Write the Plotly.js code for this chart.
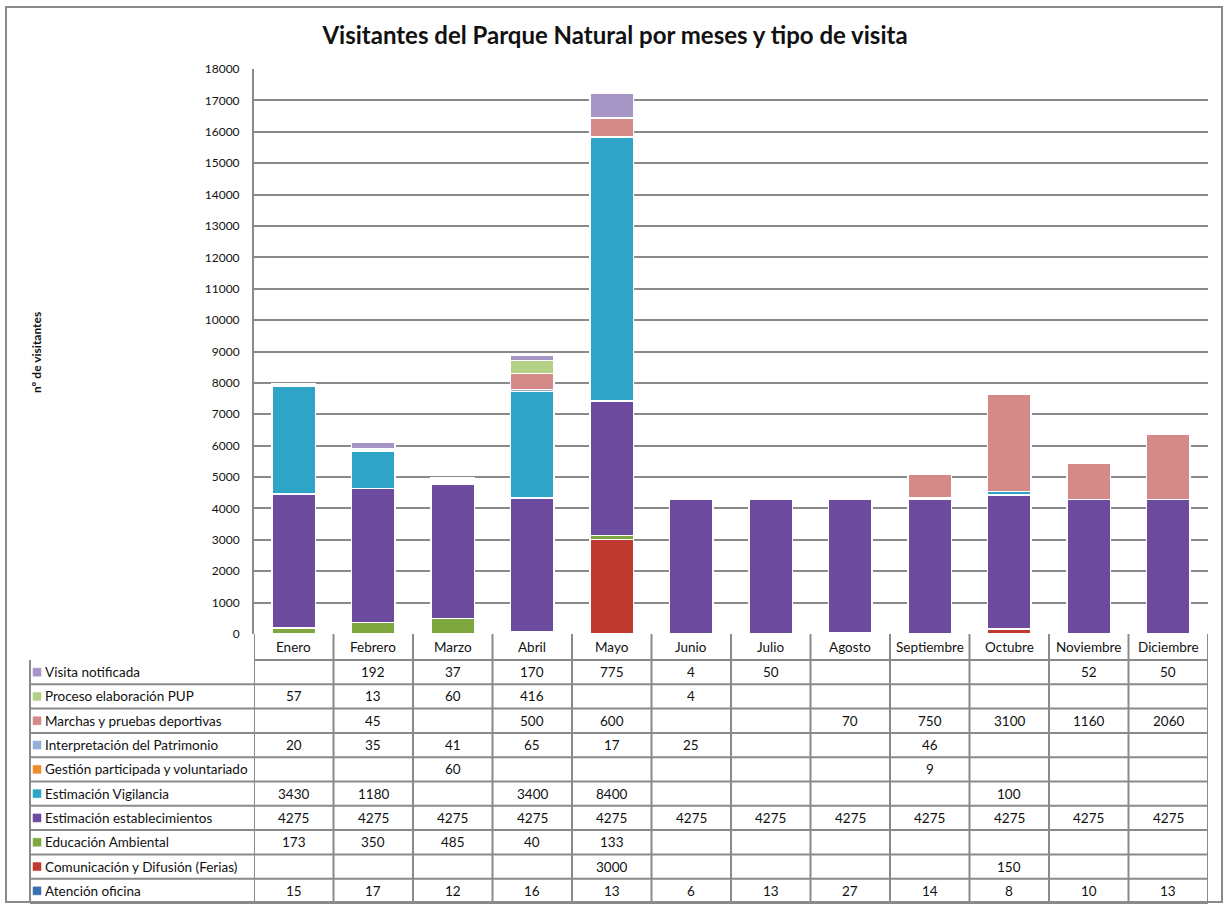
<!DOCTYPE html>
<html>
<head>
<meta charset="utf-8">
<script src="https://cdn.plot.ly/plotly-3.0.1.min.js"></script>
<style>html,body{margin:0;padding:0;background:#fff;}#chart{width:1228px;height:904px;}</style>
</head>
<body>
<div id="chart"></div>
<script>
// ---- data ----
const months = ["Enero","Febrero","Marzo","Abril","Mayo","Junio","Julio","Agosto","Septiembre","Octubre","Noviembre","Diciembre"];
const atencionOficina      = [15,17,12,16,13,6,13,27,14,8,10,13];
const comunicacionFerias   = [null,null,null,null,3000,null,null,null,null,150,null,null];
const educacionAmbiental   = [173,350,485,40,133,null,null,null,null,null,null,null];
const estimacionEstablec   = [4275,4275,4275,4275,4275,4275,4275,4275,4275,4275,4275,4275];
const estimacionVigilancia = [3430,1180,null,3400,8400,null,null,null,null,100,null,null];
const gestionParticipada   = [null,null,60,null,null,null,null,null,9,null,null,null];
const interpretacionPatr   = [20,35,41,65,17,25,null,null,46,null,null,null];
const marchasPruebas       = [null,45,null,500,600,null,null,70,750,3100,1160,2060];
const procesoPUP           = [57,13,60,416,null,4,null,null,null,null,null,null];
const visitaNotificada     = [null,192,37,170,775,4,50,null,null,null,52,50];
const yTicks = [0,1000,2000,3000,4000,5000,6000,7000,8000,9000,10000,11000,12000,13000,14000,15000,16000,17000,18000];

// stacking order bottom -> top
const seriesNames = ["Atención oficina","Comunicación y Difusión (Ferias)","Educación Ambiental","Estimación establecimientos","Estimación Vigilancia","Gestión participada y voluntariado","Interpretación del Patrimonio","Marchas y pruebas deportivas","Proceso elaboración PUP","Visita notificada"];
const seriesValues = [atencionOficina,comunicacionFerias,educacionAmbiental,estimacionEstablec,estimacionVigilancia,gestionParticipada,interpretacionPatr,marchasPruebas,procesoPUP,visitaNotificada];
const seriesColors = ["#3b6fb3","#c0392f","#7ea83f","#6c4a9e","#2ea5c6","#f08a2c","#93afd8","#d48a89","#b4cf86","#a696c6"];

// ---- layout geometry (pixels) ----
const W = 1228, H = 904;
const L = 254, R = 20, T = 69, B = 270;
const plotW = W - L - R, plotH = H - T - B;
const px = p => (p - L) / plotW;          // pixel x -> paper
const py = p => (H - B - p) / plotH;      // pixel y -> paper
const FONT = "Lato, 'Open Sans', sans-serif";
const GRID = "#8a8a8a";
const TFS = 13.5;

const traces = seriesNames.map((n, i) => ({
  type: "bar", name: n, x: months, y: seriesValues[i],
  marker: {color: seriesColors[i], line: {color: "#ffffff", width: 1.5}},
  hoverinfo: "x+y+name"
}));

const shapes = [];
const annotations = [];

// outer frame
shapes.push({type:"rect", xref:"paper", yref:"paper", x0:px(6), x1:px(1222), y0:py(902), y1:py(7), line:{color:GRID, width:2}, fillcolor:"rgba(0,0,0,0)", layer:"below"});

// table geometry
const tableLeft = 30;
const headerTop = H - B, headerBot = 660, rowH = 24.3;
const nRows = seriesNames.length;
const tableBot = headerBot + nRows * rowH;
shapes.push({type:"line", xref:"paper", yref:"paper", x0:0, x1:1, y0:py(headerBot), y1:py(headerBot), line:{color:GRID,width:2}});
for (let r = 0; r < nRows; r++) {
  const yb = headerBot + (r + 1) * rowH;
  shapes.push({type:"line", xref:"paper", yref:"paper", x0:px(tableLeft), x1:1, y0:py(yb), y1:py(yb), line:{color:GRID,width:2}});
}
shapes.push({type:"line", xref:"paper", yref:"paper", x0:px(tableLeft), x1:px(tableLeft), y0:py(headerBot), y1:py(tableBot), line:{color:GRID,width:2}});
for (let c = 0; c <= months.length; c++) {
  shapes.push({type:"line", xref:"x", yref:"paper", x0:c-0.5, x1:c-0.5, y0:0, y1:py(tableBot), line:{color:GRID,width:2}});
}
// header month names
months.forEach(m => annotations.push({xref:"x", yref:"paper", x:m, y:py((headerTop+headerBot)/2), xanchor:"center", yanchor:"middle", text:m, showarrow:false, font:{family:FONT,size:TFS,color:"#111"}}));
// table rows: top row = last series
for (let r = 0; r < nRows; r++) {
  const si = nRows - 1 - r;
  const yc = headerBot + r * rowH + rowH / 2;
  shapes.push({type:"rect", xref:"paper", yref:"paper", x0:px(33), x1:px(41), y0:py(yc+4), y1:py(yc-4), fillcolor:seriesColors[si], line:{color:seriesColors[si],width:0.5}});
  annotations.push({xref:"paper", yref:"paper", x:px(43), y:py(yc), xanchor:"left", yanchor:"middle", text:seriesNames[si], showarrow:false, font:{family:FONT,size:TFS,color:"#111"}});
  seriesValues[si].forEach((v, c) => {
    if (v !== null && v !== undefined) {
      annotations.push({xref:"x", yref:"paper", x:months[c], y:py(yc), xanchor:"center", yanchor:"middle", text:String(v), showarrow:false, font:{family:FONT,size:TFS,color:"#111"}});
    }
  });
}
// y-axis label
annotations.push({xref:"paper", yref:"paper", x:px(37), y:py(353), xanchor:"center", yanchor:"middle", text:"<b>nº de visitantes</b>", textangle:-90, showarrow:false, font:{family:FONT,size:12,color:"#111"}});

const layout = {
  width: W, height: H,
  margin: {l:L, r:R, t:T, b:B, pad:0},
  paper_bgcolor: "#ffffff", plot_bgcolor: "#ffffff",
  barmode: "stack", bargap: 0.45,
  showlegend: false,
  title: {text:"<b>Visitantes del Parque Natural por meses y tipo de visita</b>", x:615/W, xref:"container", xanchor:"center", y:1-36/H, yref:"container", yanchor:"middle", font:{family:FONT,size:24,color:"#111"}},
  xaxis: {type:"category", range:[-0.5, months.length-0.5], showticklabels:false, ticks:"", showgrid:false, zeroline:false, showline:false, fixedrange:true},
  yaxis: {range:[0,18000], tickvals:yTicks, ticktext:yTicks.map(String), showgrid:true, gridcolor:GRID, gridwidth:2, zeroline:false, showline:true, linecolor:GRID, linewidth:2, ticks:"", ticklabelstandoff:10, tickfont:{family:FONT,size:12,color:"#111"}, fixedrange:true},
  shapes: shapes,
  annotations: annotations
};

Plotly.newPlot("chart", traces, layout, {displayModeBar:false, staticPlot:true});
</script>
</body>
</html>
